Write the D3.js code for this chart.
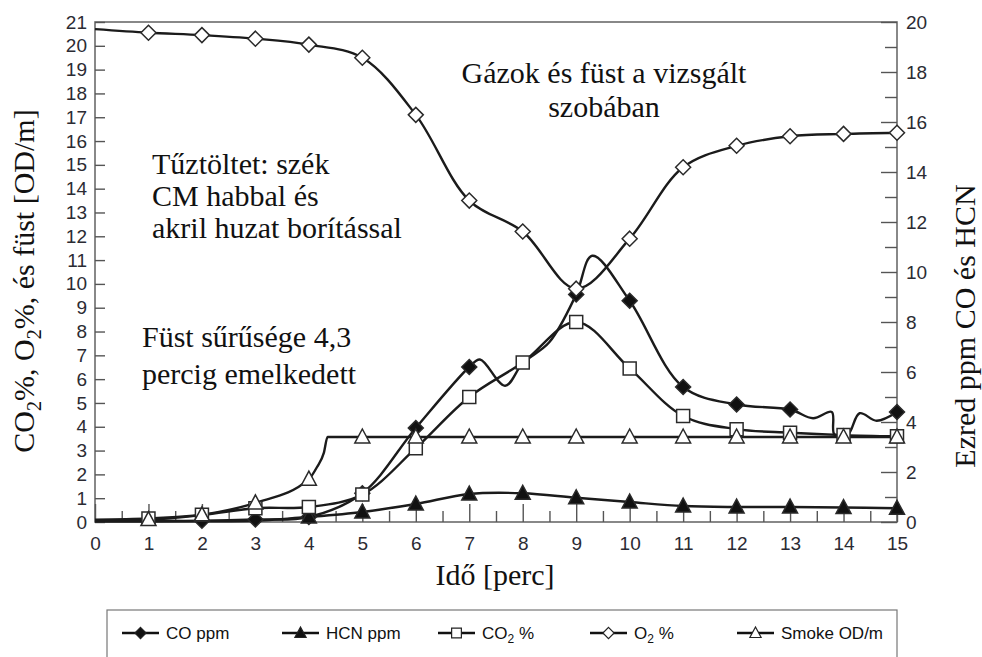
<!DOCTYPE html>
<html>
<head>
<meta charset="utf-8">
<script src="https://cdnjs.cloudflare.com/ajax/libs/d3/7.8.5/d3.min.js"></script>
<style>
body{margin:0;background:#fff}
.tick text{font-family:"Liberation Sans",Arial,sans-serif;font-size:19px;fill:#2b2b33}
.serif{font-family:"Liberation Serif","Times New Roman",serif;font-size:30px;fill:#111}
.legend text{font-family:"Liberation Sans Narrow","Liberation Sans",Arial,sans-serif;font-size:17px;fill:#111}
</style>
</head>
<body>
<svg id="graph"></svg>
<script>
// values
var minutes=[0,1,2,3,4,5,6,7,8,9,10,11,12,13,14,15]
var o2Pct=[20.7,20.55,20.45,20.3,20.05,19.5,17.1,13.5,12.2,9.8,11.9,14.9,15.8,16.2,16.3,16.35]
var co2Pct=[0.1,0.15,0.3,0.58,0.63,1.15,3.1,5.25,6.7,8.4,6.45,4.45,3.9,3.75,3.65,3.6]
var hcnPpm=[0.02,0.02,0.03,0.05,0.2,0.4,0.72,1.12,1.15,0.97,0.8,0.64,0.6,0.6,0.58,0.55]
var smokeTime=[0,1,2,3,4,4.15,4.28,4.35,5,6,7,8,9,10,11,12,13,14,15]
var smokeOD=[0.05,0.1,0.3,0.8,1.8,2.3,2.9,3.57,3.57,3.57,3.57,3.57,3.57,3.57,3.57,3.57,3.57,3.57,3.57]
var coTime=[0,1,2,3,4,5,6,7,7.2,7.67,8,8.5,9,9.3,10,11,12,13,13.43,13.78,13.83,14.08,14.3,14.62,15]
var coPpm=[0.05,0.05,0.05,0.1,0.2,1.15,3.76,6.2,6.5,5.45,6.35,7.2,9.1,10.65,8.85,5.4,4.7,4.5,4.15,4.4,3.5,3.5,4.35,4.05,4.4]

var coMarkerMinutes=[2,3,4,5,6,7,9,10,11,12,13,15]
var hcnMarkerMinutes=[4,5,6,7,8,9,10,11,12,13,14,15]
var markerMinutes=[1,2,3,4,5,6,7,8,9,10,11,12,13,14,15]

var xTickLabels=[0,1,2,3,4,5,6,7,8,9,10,11,12,13,14,15]
var leftTickLabels=[0,1,2,3,4,5,6,7,8,9,10,11,12,13,14,15,16,17,18,19,20,21]
var rightTickLabels=[0,2,4,6,8,10,12,14,16,18,20]
var legendLabels=["CO ppm","HCN ppm","CO2 %","O2 %","Smoke OD/m"]
var legendShapes=["diamondFilled","triangleFilled","square","diamond","triangle"]

var screen={width:982,height:657}
var margins={left:95,right:85,top:22,bottom:135}
var graph={width:screen.width-margins.left-margins.right,height:screen.height-margins.top-margins.bottom}

var shapePath=function(shape)
{
    if(shape=="diamond"||shape=="diamondFilled") return "M0,-7.5L7.5,0L0,7.5L-7.5,0Z"
    if(shape=="square") return "M-6.5,-6.5H6.5V6.5H-6.5Z"
    return "M0,-8L7.5,6L-7.5,6Z"
}
var shapeFill=function(shape)
{
    return shape.indexOf("Filled")>0 ? "#111" : "#fff"
}

var initGraph=function()
{
    var svg=d3.select("#graph")
        .attr("width",screen.width)
        .attr("height",screen.height)

    var xScale=d3.scaleLinear().domain([0,15]).range([margins.left,margins.left+graph.width])
    var yLeft=d3.scaleLinear().domain([0,21]).range([margins.top+graph.height,margins.top])
    var yRight=d3.scaleLinear().domain([0,20]).range([margins.top+graph.height,margins.top])

    drawAxes(svg,xScale,yLeft,yRight)
    drawLines(svg,xScale,yLeft,yRight)
    drawLabels(svg)
    drawLegend(svg)
}

var drawAxes=function(svg,xScale,yLeft,yRight)
{
    var bottom=margins.top+graph.height
    var right=margins.left+graph.width

    svg.append("rect")
        .attr("x",margins.left)
        .attr("y",margins.top)
        .attr("width",graph.width)
        .attr("height",graph.height)
        .attr("fill","none")
        .attr("stroke","#6b6b6b")
        .attr("stroke-width",1.6)

    var styleAxis=function(g)
    {
        g.select(".domain").remove()
        g.selectAll(".tick line").attr("stroke","#555").attr("stroke-width",1.4)
    }

    svg.append("g")
        .attr("transform","translate("+margins.left+",0)")
        .call(d3.axisLeft(yLeft).tickValues(leftTickLabels).tickSize(-10).tickPadding(8))
        .call(styleAxis)

    svg.append("g")
        .attr("transform","translate("+right+",0)")
        .call(d3.axisRight(yRight).tickValues(rightTickLabels).tickSize(-16).tickPadding(9))
        .call(styleAxis)
    svg.append("g")
        .attr("transform","translate("+right+",0)")
        .call(d3.axisRight(yRight).tickValues(rightTickLabels.slice(1).map(function(d){return d-1})).tickSize(-12).tickFormat(""))
        .call(styleAxis)

    svg.append("g")
        .attr("transform","translate(0,"+bottom+")")
        .call(d3.axisBottom(xScale).tickValues(xTickLabels).tickSize(-18).tickPadding(15))
        .call(styleAxis)
    svg.append("g")
        .attr("transform","translate(0,"+bottom+")")
        .call(d3.axisBottom(xScale).tickValues(xTickLabels.slice(1).map(function(d){return d-0.5})).tickSize(-11).tickFormat(""))
        .call(styleAxis)
}

var drawLines=function(svg,xScale,yLeft,yRight)
{
    var lineFor=function(yScale,curve)
    {
        return d3.line()
            .x(function(d){return xScale(d[0])})
            .y(function(d){return yScale(d[1])})
            .curve(curve)
    }
    var smooth=d3.curveCatmullRom.alpha(0.5)
    var series=[
        {pts:d3.zip(minutes,hcnPpm),y:yRight,curve:smooth},
        {pts:d3.zip(smokeTime,smokeOD),y:yLeft,curve:d3.curveMonotoneX},
        {pts:d3.zip(minutes,co2Pct),y:yLeft,curve:smooth},
        {pts:d3.zip(coTime,coPpm),y:yRight,curve:smooth},
        {pts:d3.zip(minutes,o2Pct),y:yLeft,curve:smooth}
    ]
    var lines=svg.append("g").attr("id","lines")
    series.forEach(function(s)
    {
        lines.append("path")
            .datum(s.pts)
            .attr("d",lineFor(s.y,s.curve))
            .attr("fill","none")
            .attr("stroke","#1b1b1b")
            .attr("stroke-width",2.4)
    })

    var markerSets=[
        {pts:coMarkerMinutes.map(function(m){return [m,coPpm[coTime.indexOf(m)]]}),y:yRight,shape:"diamondFilled"},
        {pts:hcnMarkerMinutes.map(function(m){return [m,hcnPpm[m]]}),y:yRight,shape:"triangleFilled"},
        {pts:markerMinutes.map(function(m){return [m,co2Pct[m]]}),y:yLeft,shape:"square"},
        {pts:markerMinutes.map(function(m){return [m,smokeOD[smokeTime.indexOf(m)]]}),y:yLeft,shape:"triangle"},
        {pts:markerMinutes.map(function(m){return [m,o2Pct[m]]}),y:yLeft,shape:"diamond"}
    ]
    markerSets.forEach(function(s)
    {
        svg.append("g")
            .selectAll("path")
            .data(s.pts)
            .enter()
            .append("path")
            .attr("transform",function(d){return "translate("+xScale(d[0])+","+s.y(d[1])+")"})
            .attr("d",shapePath(s.shape))
            .attr("fill",shapeFill(s.shape))
            .attr("stroke","#2a2a2a")
            .attr("stroke-width",1.5)
    })
}

var drawLabels=function(svg)
{
    var labels=svg.append("g").classed("labels",true)

    var left=labels.append("text")
        .classed("serif",true)
        .attr("text-anchor","middle")
        .attr("transform","translate(34,281) rotate(-90)")
    left.append("tspan").text("CO")
    left.append("tspan").attr("dy",7).attr("font-size",20).text("2")
    left.append("tspan").attr("dy",-7).text("%, O")
    left.append("tspan").attr("dy",7).attr("font-size",20).text("2")
    left.append("tspan").attr("dy",-7).text("%, és füst [OD/m]")

    labels.append("text")
        .classed("serif",true)
        .attr("text-anchor","middle")
        .attr("transform","translate(975,326) rotate(-90)")
        .text("Ezred ppm CO és HCN")

    labels.append("text")
        .classed("serif",true)
        .attr("text-anchor","middle")
        .attr("x",495)
        .attr("y",585)
        .text("Idő [perc]")

    var notes=[
        {t:"Gázok és füst a vizsgált",x:604,y:83,a:"middle"},
        {t:"szobában",x:604,y:117,a:"middle"},
        {t:"Tűztöltet: szék",x:152,y:174,a:"start"},
        {t:"CM habbal és",x:152,y:206,a:"start"},
        {t:"akril huzat borítással",x:152,y:238,a:"start"},
        {t:"Füst sűrűsége 4,3",x:142,y:347,a:"start"},
        {t:"percig emelkedett",x:142,y:384,a:"start"}
    ]
    notes.forEach(function(n)
    {
        labels.append("text")
            .classed("serif",true)
            .attr("text-anchor",n.a)
            .attr("x",n.x)
            .attr("y",n.y)
            .text(n.t)
    })
}

var drawLegend=function(svg)
{
    var legend=svg.append("g").classed("legend",true)
    legend.append("rect")
        .attr("x",107)
        .attr("y",610)
        .attr("width",790)
        .attr("height",60)
        .attr("fill","#fff")
        .attr("stroke","#777")
        .attr("stroke-width",1.2)

    var itemX=[122,282,438,590,737]
    legendLabels.forEach(function(label,i)
    {
        var g=legend.append("g").attr("transform","translate("+itemX[i]+",633)")
        g.append("line")
            .attr("x1",0).attr("x2",37)
            .attr("stroke","#111").attr("stroke-width",2.4)
        g.append("path")
            .attr("transform","translate(18.5,0) scale(0.75)")
            .attr("d",shapePath(legendShapes[i]))
            .attr("fill",shapeFill(legendShapes[i]))
            .attr("stroke","#222")
            .attr("stroke-width",1.6)
        var t=g.append("text").attr("x",44).attr("y",6)
        var parts=label.split("2")
        if(parts.length>1)
        {
            t.append("tspan").text(parts[0])
            t.append("tspan").attr("dy",4).attr("font-size",12).text("2")
            t.append("tspan").attr("dy",-4).text(parts[1])
        }
        else t.text(label)
    })
}

initGraph()
</script>
</body>
</html>
